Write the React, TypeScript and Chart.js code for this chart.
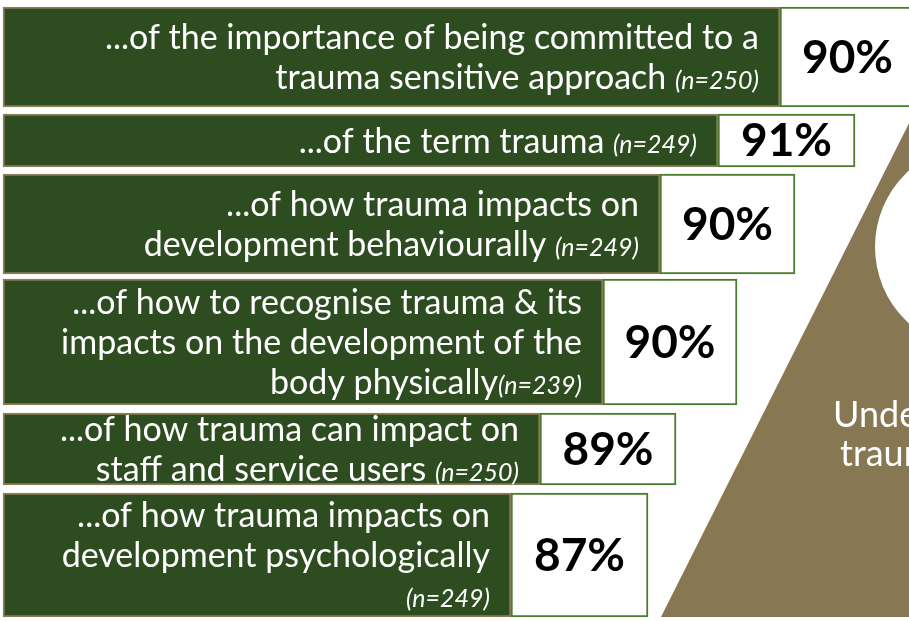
import { useEffect, useRef } from "react";
import { Chart, registerables } from "chart.js";

Chart.register(...registerables);

// ---------- data ----------
const statementLines: string[][] = [
  ["...of the importance of being committed to a", "trauma sensitive approach {n}"],
  ["...of the term trauma {n}"],
  ["...of how trauma impacts on", "development behaviourally {n}"],
  ["...of how to recognise trauma & its", "impacts on the development of the", "body physically{n}"],
  ["...of how trauma can impact on", "staff and service users {n}"],
  ["...of how trauma impacts on", "development psychologically", "{n}"],
];
const sampleSizes = [250, 249, 249, 239, 250, 249];
const percentages = [90, 91, 90, 90, 89, 87];
const sideTitleLines = ["Understanding", "trauma"];

// ---------- layout (scale units) ----------
const W = 909;
const H = 621;
const barStart = 3;
const rowTop = [7, 114, 174, 279, 413, 493];
const rowBottom = [107, 167, 274, 405, 485, 617];
const barEnd = [780, 718, 660, 603, 540, 511];
const boxEnd = [915, 855, 795, 737, 676, 648];
const trianglePts = [
  { x: 661, y: 617 },
  { x: 978, y: -14 },
  { x: 1294, y: 617 },
];
const circle = { x: 978, y: 247, r: 103 };

// ---------- styles ----------
const GREEN = "#2d4c1f";
const TAN = "#8c7d5a";
const BOX_BORDER = "#4b7c2e";
const TRI = "#877853";
const FONT = "Lato, 'Open Sans', sans-serif";

export default function App() {
  const ref = useRef<HTMLCanvasElement>(null);

  useEffect(() => {
    const canvas = ref.current;
    if (!canvas) return;

    const rowSets = percentages.map((p, i) => {
      const cy = (rowTop[i] + rowBottom[i]) / 2;
      return {
        type: "bar" as const,
        label: `row${i}`,
        indexAxis: "y" as const,
        data: [
          { y: cy, x: [barStart, barEnd[i]] },
          { y: cy, x: [barEnd[i], boxEnd[i]] },
        ],
        backgroundColor: [GREEN, "#ffffff"],
        borderColor: [TAN, BOX_BORDER],
        borderWidth: 2,
        borderSkipped: false,
        barThickness: rowBottom[i] - rowTop[i],
        grouped: false,
        order: 1,
      };
    });

    const labelPlugin = {
      id: "rowLabels",
      afterDatasetsDraw(chart: any) {
        const ctx: CanvasRenderingContext2D = chart.ctx;
        const xs = chart.scales.x;
        const ys = chart.scales.y;
        ctx.save();
        // side title
        ctx.fillStyle = "#ffffff";
        ctx.font = `36px ${FONT}`;
        ctx.textAlign = "left";
        ctx.textBaseline = "alphabetic";
        ctx.fillText(sideTitleLines[0], xs.getPixelForValue(833), ys.getPixelForValue(427));
        ctx.fillText(sideTitleLines[1], xs.getPixelForValue(840), ys.getPixelForValue(466));

        percentages.forEach((p, i) => {
          const meta = chart.getDatasetMeta(i);
          const bar = meta.data[0] as any;
          const box = meta.data[1] as any;
          const barRight = bar.x;
          const cy = bar.y;
          const lines = statementLines[i];
          const n = lines.length;
          const right = barRight - 21;
          const nLabel = `(n=${sampleSizes[i]})`;
          lines.forEach((line, j) => {
            const baseline = cy + (j - (n - 1) / 2) * 40 + 12;
            const parts = line.split("{n}");
            const regFont = `34px ${FONT}`;
            const itFont = `italic 25px ${FONT}`;
            ctx.textBaseline = "alphabetic";
            ctx.textAlign = "left";
            ctx.fillStyle = "#ffffff";
            if (parts.length === 1) {
              ctx.font = regFont;
              const w = ctx.measureText(line).width;
              ctx.fillText(line, right - w, baseline);
            } else {
              ctx.font = regFont;
              const w1 = ctx.measureText(parts[0]).width;
              ctx.font = itFont;
              const w2 = ctx.measureText(nLabel).width;
              const start = right - w1 - w2;
              ctx.font = regFont;
              ctx.fillText(parts[0], start, baseline);
              ctx.font = itFont;
              ctx.fillText(nLabel, start + w1, baseline);
            }
          });
          // percentage
          ctx.font = `bold 46px ${FONT}`;
          ctx.fillStyle = "#000000";
          ctx.textAlign = "center";
          ctx.textBaseline = "middle";
          const bx = (box.base + box.x) / 2;
          ctx.fillText(`${p}%`, bx, box.y + 1);
        });
        ctx.restore();
      },
    };

    const chart = new Chart(canvas, {
      type: "bar",
      data: {
        datasets: [
          ...rowSets,
          {
            type: "line" as const,
            label: "triangle",
            indexAxis: "x" as const,
            data: trianglePts,
            backgroundColor: TRI,
            borderColor: TRI,
            borderWidth: 0,
            pointRadius: 0,
            tension: 0,
            fill: { value: 617 },
            order: 3,
          },
          {
            type: "bubble" as const,
            label: "circle",
            data: [circle],
            backgroundColor: "#ffffff",
            borderWidth: 0,
            order: 2,
          },
        ] as any,
      },
      options: {
        animation: false,
        responsive: false,
        maintainAspectRatio: false,
        layout: { padding: 0, autoPadding: false },
        events: [],
        plugins: {
          legend: { display: false },
          tooltip: { enabled: false },
        },
        scales: {
          x: { type: "linear", min: 0, max: W, display: false, offset: false, grid: { offset: false } },
          y: { type: "linear", min: 0, max: H, reverse: true, display: false, offset: false, grid: { offset: false } },
        },
      },
      plugins: [labelPlugin],
    });

    return () => chart.destroy();
  }, []);

  return (
    <div style={{ position: "absolute", left: 0, top: 0, width: W, height: H, background: "#ffffff" }}>
      <canvas ref={ref} width={W} height={H} style={{ display: "block", width: W, height: H }} />
    </div>
  );
}
